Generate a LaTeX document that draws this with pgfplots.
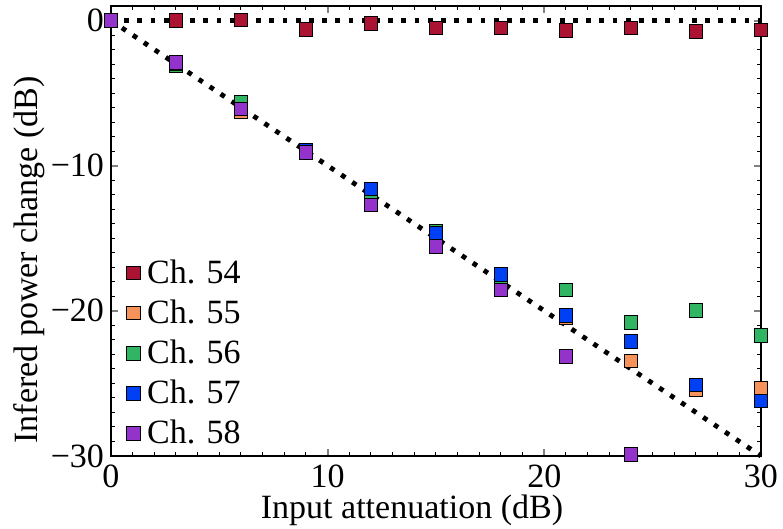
\documentclass[border=0pt]{standalone}
\usepackage{fontspec}
\setmainfont{Liberation Serif}
\usepackage{pgfplots}
\pgfplotsset{compat=1.18}
\definecolor{cA}{RGB}{170,20,50}
\definecolor{cB}{RGB}{245,147,90}
\definecolor{cC}{RGB}{48,181,99}
\definecolor{cD}{RGB}{0,64,245}
\definecolor{cE}{RGB}{148,51,204}
\begin{document}
\begin{tikzpicture}
\useasboundingbox (-55.5pt,-36.5pt) rectangle (336pt,228pt);
\begin{axis}[at={(0,0)}, anchor=south west, scale only axis, width=325pt, height=225pt,
  xmin=0, xmax=30, ymin=-30, ymax=1,
  xtick={0,10,20,30}, ytick={-30,-20,-10,0}, yticklabels={−30,−20,−10,0},
  xticklabels={0,10,20,30},
  minor x tick num=9, minor y tick num=9,
  tick align=inside,
  major tick length=3.5pt, minor tick length=1.8pt,
  major tick style={gray, line width=1pt}, minor tick style={black, line width=0.5pt},
  axis line style={line width=0.6pt},
  ticklabel style={font=\fontsize{17}{17}\selectfont},
  xticklabel style={yshift=-1pt},
  xlabel={Input attenuation (dB)}, ylabel={Infered power change (dB)},
  label style={font=\fontsize{17}{17}\selectfont},
  xlabel style={yshift=3.5pt, xshift=-12pt},
  every axis y label/.style={at={(axis description cs:-0.126,0.436)}, rotate=90, anchor=center, font=\fontsize{17}{17}\selectfont},
  clip=false,
  legend style={at={(axis cs:0.7,-29.4)}, anchor=south west, draw=none, fill=none,
    font=\fontsize{17}{17}\selectfont, row sep=6.8pt, inner sep=0pt,
    nodes={inner xsep=3.5pt, inner ysep=0pt}},
  legend cell align=left,
  every axis plot/.append style={only marks, mark=square*, mark size=3.4pt, mark options={draw=black, line width=0.8pt}},
]
\addplot[forget plot, no marks, sharp plot, black, line width=2.4pt, dash pattern=on 2.4pt off 4.2pt] coordinates {(0,0) (30,0)};
\addplot[forget plot, no marks, sharp plot, black, line width=2.4pt, dash pattern=on 2.4pt off 4.2pt] coordinates {(0,0) (30,-30)};
\addplot[mark options={fill=cA}] coordinates {(0,0)(3,0)(6,0.05)(9,-0.6)(12,-0.2)(15,-0.5)(18,-0.5)(21,-0.7)(24,-0.5)(27,-0.75)(30,-0.65)};
\addlegendentry{Ch. 54}
\addplot[mark options={fill=cB}] coordinates {(0,0)(3,-3.0)(6,-6.3)(9,-9.0)(12,-12.3)(15,-15.0)(18,-18.0)(21,-20.5)(24,-23.45)(27,-25.4)(30,-25.3)};
\addlegendentry{Ch. 55}
\addplot[mark options={fill=cC}] coordinates {(0,0)(3,-3.1)(6,-5.6)(9,-9.0)(12,-12.3)(15,-14.5)(18,-18.0)(21,-18.55)(24,-20.8)(27,-19.95)(30,-21.7)};
\addlegendentry{Ch. 56}
\addplot[mark options={fill=cD}] coordinates {(0,0)(3,-3.0)(6,-6.1)(9,-8.9)(12,-11.6)(15,-14.65)(18,-17.5)(21,-20.3)(24,-22.1)(27,-25.1)(30,-26.2)};
\addlegendentry{Ch. 57}
\addplot[mark options={fill=cE}] coordinates {(0,0)(3,-2.9)(6,-6.1)(9,-9.1)(12,-12.7)(15,-15.55)(18,-18.55)(21,-23.15)(24,-29.9)};
\addlegendentry{Ch. 58}
\end{axis}
\end{tikzpicture}
\end{document}
